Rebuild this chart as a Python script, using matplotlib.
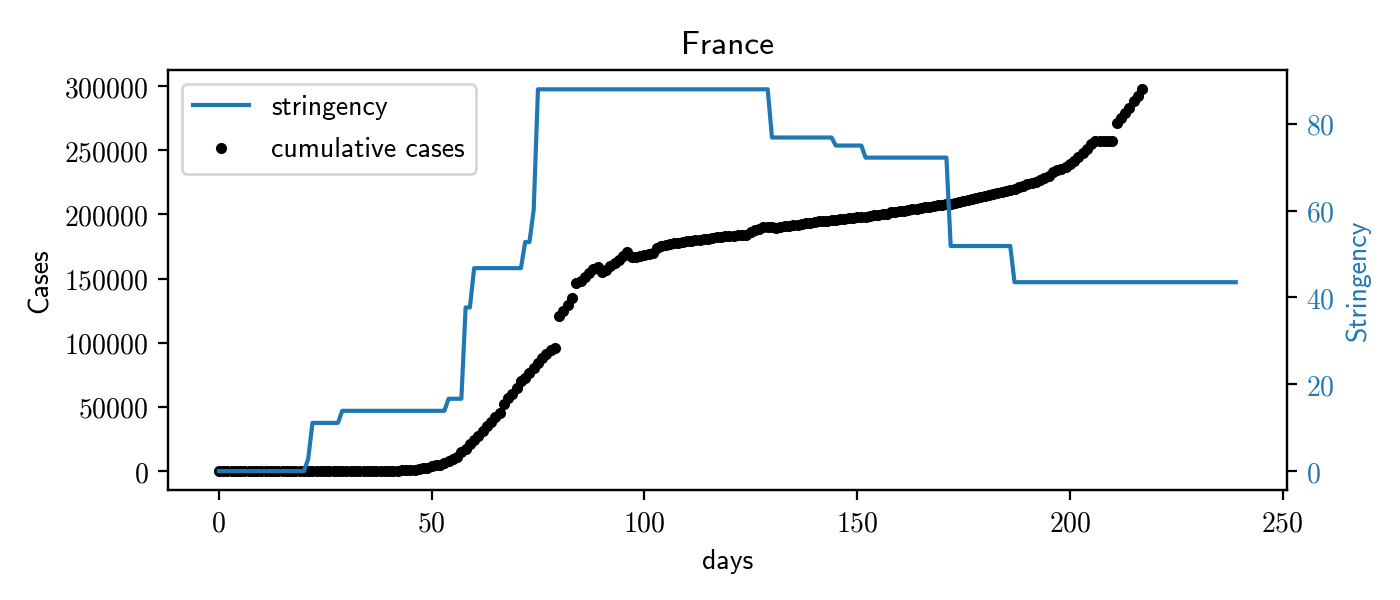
import matplotlib
matplotlib.use("Agg")
import matplotlib.pyplot as plt
from matplotlib.ticker import FuncFormatter
import numpy as np

# ---- data ----
cases = [
    0, 0, 2, 3, 3, 3, 4, 5, 5, 5, 6, 6, 6, 6, 6, 6, 6, 11, 11, 11,
    11, 11, 11, 11, 12, 12, 12, 12, 12, 12, 12, 12, 12, 12, 14,
    38, 57, 100, 130, 191, 204, 288, 380, 656, 959, 1136, 1219, 1794, 2293, 2293,
    3681, 4496, 4532, 6683, 7715, 9124, 10970,
    15000, 17500, 21000, 24000, 27500, 31000, 35000, 38500, 42000, 45000,
    52500, 57000, 60000, 65000, 70000, 72500, 76500, 80500, 84500, 88000,
    91500, 94000, 95800,
    121000, 124500, 129500, 134500, 146500, 148000, 151500, 154500, 157500, 159000,
    155500, 157000, 159500, 162500, 164500, 167500, 170500, 166500, 167000, 167500,
    168500, 169000, 170000, 174000, 175500, 176000, 177000, 177500, 178000, 178500,
    179000, 179500, 179700, 180000, 180500, 181000, 181800, 182300, 182600, 183000,
    183200, 183500, 183600, 183800, 184000, 186500, 188000, 189000, 190000, 190200,
    190000, 189500, 190500, 191000, 191200, 191500, 192000, 192300, 193000, 193500,
    194000, 194500, 194800, 195200, 195500, 196000, 196300, 196800, 197000, 197300,
    197800, 198000, 198200, 198500, 199500, 199800, 200000, 200500, 201500, 202000,
    202500, 203000, 203500, 204000, 204200, 204800, 205500, 206000, 206500, 207000,
    207500, 208000, 208500, 209000, 209500, 210500, 211000, 212000, 212500, 213500,
    214500, 215000, 216000, 216500, 217500, 218500, 219000, 220000, 221000, 222500,
    223500, 224500, 225500, 226500, 228000, 230000, 233000, 234500, 235500, 237000,
    239000, 241500, 245000, 248000, 251000, 255000, 257500, 257500, 257500, 257500,
    257500, 271500, 275000, 279000, 283000, 288000, 292500, 297500,
]
case_days = list(range(len(cases)))

# stringency index as (level, number of days) runs, day 0 onward
stringency_levels = [0.0, 2.78, 11.11, 13.89, 16.67, 37.7, 46.76, 52.78, 60.19,
                     87.96, 76.85, 75.0, 72.22, 51.85, 43.52]
stringency_run_days = [21, 1, 7, 25, 4, 2, 12, 2, 1, 55, 15, 7, 20, 15, 53]
stringency = np.repeat(stringency_levels, stringency_run_days)
stringency_days = np.arange(len(stringency))

left_ticks = [0, 50000, 100000, 150000, 200000, 250000, 300000]
right_ticks = [0, 20, 40, 60, 80]
x_ticks = [0, 50, 100, 150, 200, 250]

# ---- style ----
plt.rcParams['mathtext.fontset'] = 'cm'
plt.rcParams['font.size'] = 10
plt.rcParams['axes.formatter.use_mathtext'] = True
SANS = 'cmss10'
BLUE = '#1f77b4'

fig, ax = plt.subplots(figsize=(7, 3), dpi=200)
fig.subplots_adjust(left=0.12, right=0.919, bottom=0.183, top=0.883)

pts, = ax.plot(case_days, cases, 'k.', label='cumulative cases')
ax2 = ax.twinx()
ln, = ax2.plot(stringency_days, stringency, color=BLUE, label='stringency')

mfmt = FuncFormatter(lambda v, p: r'$%d$' % int(round(v)))
ax.set_xticks(x_ticks)
ax.set_yticks(left_ticks)
ax2.set_yticks(right_ticks)
ax.xaxis.set_major_formatter(mfmt)
ax.yaxis.set_major_formatter(mfmt)
ax2.yaxis.set_major_formatter(mfmt)
ax2.tick_params(axis='y', labelcolor=BLUE)

ax.set_xlabel('days', fontfamily=SANS)
ax.set_ylabel('Cases', fontfamily=SANS)
ax2.set_ylabel('Stringency', fontfamily=SANS, color=BLUE)
ax.set_title('France', fontfamily=SANS, fontsize=12)

leg = ax2.legend(handles=[ln, pts], loc='upper left', prop={'family': SANS},
                 labelspacing=0.62)

fig.savefig('out.png', dpi=200)
